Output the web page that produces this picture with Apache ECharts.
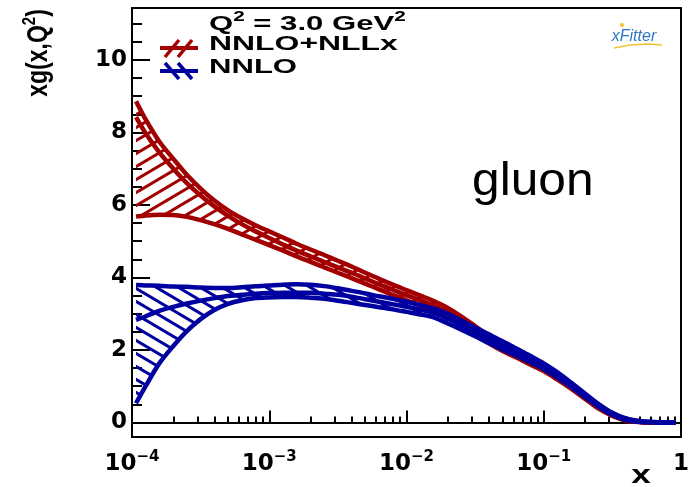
<!DOCTYPE html>
<html><head><meta charset="utf-8">
<script src="https://cdn.jsdelivr.net/npm/echarts@6/dist/echarts.min.js"></script>
<style>html,body{margin:0;padding:0;background:#fff}#c{width:693px;height:487px}</style>
</head><body><div id="c"></div>
<script>
// ---------- data ----------
const xValues = [1.07e-4, 1.26e-4, 1.58e-4, 2.00e-4, 2.51e-4, 3.16e-4, 3.98e-4, 5.01e-4, 6.31e-4, 7.94e-4,
  1.00e-3, 1.26e-3, 1.58e-3, 2.00e-3, 2.51e-3, 3.16e-3, 3.98e-3, 5.01e-3, 6.31e-3, 7.94e-3,
  1.00e-2, 1.26e-2, 1.58e-2, 2.00e-2, 2.51e-2, 3.16e-2, 3.98e-2, 5.01e-2, 6.31e-2, 7.94e-2,
  0.100, 0.126, 0.158, 0.200, 0.251, 0.316, 0.398, 0.501, 0.631, 0.794, 0.912];
const nllxUpper = [8.86, 8.35, 7.75, 7.27, 6.83, 6.45, 6.12, 5.85, 5.63, 5.44,
  5.27, 5.10, 4.93, 4.77, 4.62, 4.46, 4.30, 4.13, 3.96, 3.80,
  3.65, 3.50, 3.35, 3.16, 2.92, 2.66, 2.40, 2.19, 1.99, 1.80,
  1.59, 1.33, 1.05, 0.75, 0.46, 0.22, 0.07, 0.02, 0.005, 0.0, 0.0];
const nllxCentral = [8.42, 7.97, 7.45, 7.00, 6.60, 6.26, 5.96, 5.70, 5.47, 5.27,
  5.09, 4.91, 4.74, 4.58, 4.43, 4.28, 4.13, 3.97, 3.81, 3.66,
  3.51, 3.37, 3.22, 3.04, 2.80, 2.55, 2.29, 2.08, 1.89, 1.70,
  1.51, 1.26, 0.99, 0.70, 0.42, 0.20, 0.06, 0.015, 0.003, 0.0, 0.0];
const nllxLower = [5.68, 5.71, 5.73, 5.72, 5.67, 5.58, 5.47, 5.34, 5.19, 5.04,
  4.89, 4.74, 4.58, 4.43, 4.28, 4.13, 3.98, 3.83, 3.67, 3.52,
  3.37, 3.23, 3.09, 2.91, 2.68, 2.43, 2.18, 1.97, 1.79, 1.60,
  1.42, 1.18, 0.93, 0.65, 0.38, 0.18, 0.05, 0.01, 0.0, 0.0, 0.0];
const nnloUpper = [3.79, 3.78, 3.77, 3.75, 3.74, 3.72, 3.71, 3.71, 3.73, 3.76,
  3.78, 3.80, 3.81, 3.80, 3.76, 3.70, 3.63, 3.56, 3.48, 3.41,
  3.33, 3.24, 3.14, 3.00, 2.81, 2.62, 2.43, 2.24, 2.04, 1.84,
  1.63, 1.38, 1.10, 0.80, 0.51, 0.27, 0.11, 0.04, 0.015, 0.0, 0.0];
const nnloCentral = [2.83, 2.93, 3.08, 3.19, 3.28, 3.36, 3.43, 3.49, 3.52, 3.55,
  3.57, 3.58, 3.58, 3.58, 3.55, 3.52, 3.47, 3.40, 3.33, 3.26,
  3.19, 3.11, 3.02, 2.86, 2.68, 2.50, 2.31, 2.12, 1.94, 1.75,
  1.55, 1.31, 1.04, 0.75, 0.47, 0.24, 0.09, 0.03, 0.01, 0.0, 0.0];
const nnloLower = [0.53, 1.01, 1.63, 2.11, 2.52, 2.85, 3.10, 3.27, 3.37, 3.43,
  3.45, 3.46, 3.46, 3.44, 3.41, 3.36, 3.30, 3.24, 3.18, 3.12,
  3.05, 2.98, 2.90, 2.73, 2.56, 2.38, 2.19, 2.01, 1.84, 1.66,
  1.47, 1.24, 0.98, 0.70, 0.43, 0.21, 0.07, 0.02, 0.005, 0.0, 0.0];

const xMajorTicks = [1e-4, 1e-3, 1e-2, 1e-1, 1];
const xMinorTicks = [2e-4,3e-4,4e-4,5e-4,6e-4,7e-4,8e-4,9e-4, 2e-3,3e-3,4e-3,5e-3,6e-3,7e-3,8e-3,9e-3,
                     2e-2,3e-2,4e-2,5e-2,6e-2,7e-2,8e-2,9e-2, 0.2,0.3,0.4,0.5,0.6,0.7,0.8,0.9];
const yMajorTicks = [0, 2, 4, 6, 8, 10];
const yMinorTicks = [0.5,1,1.5,2.5,3,3.5,4.5,5,5.5,6.5,7,7.5,8.5,9,9.5,10.5,11];

const seriesNames = ['NNLO+NLLx', 'NNLO'];
const titleRich = '{a|Q}{s|2}{a| = 3.0 GeV}{s|2}';
const yTitleRich = '{a|xg(x,Q}{s|2}{a|)}';
const xTitle = 'x';
const partonLabel = 'gluon';

// ---------- styling ----------
const RED = '#a20000', BLUE = '#0000a0';
function hatch(color, dir) {
  const W = 22, H = 13;
  const c = document.createElement('canvas'); c.width = W; c.height = H;
  const g = c.getContext('2d');
  g.strokeStyle = color; g.lineWidth = 3;
  for (let k = -3; k <= 3; k++) {
    g.beginPath();
    if (dir > 0) { g.moveTo(-W, 2 * H + k * H); g.lineTo(2 * W, -H + k * H); }
    else { g.moveTo(-W, -H + k * H); g.lineTo(2 * W, 2 * H + k * H); }
    g.stroke();
  }
  return { image: c, repeat: 'repeat' };
}
const SM = 0.3;
const pairs = ys => xValues.map((x, i) => [x, ys[i]]);
const line = (ys, color) => ({ type: 'line', symbol: 'none', smooth: SM, silent: true,
  data: pairs(ys), lineStyle: { width: 4.5, color } });
const band = (up, lo, pat) => ({
  type: 'custom', coordinateSystem: 'cartesian2d', silent: true,
  data: xValues.map((x, i) => [x, lo[i], up[i]]),
  encode: { x: 0, y: [1, 2] },
  renderItem: (params, api) => {
    if (params.dataIndex !== 0) return null;
    const pts = [];
    for (let i = 0; i < xValues.length; i++) pts.push(api.coord([xValues[i], up[i]]));
    for (let i = xValues.length - 1; i >= 0; i--) pts.push(api.coord([xValues[i], lo[i]]));
    return { type: 'polygon', shape: { points: pts }, style: { fill: pat, stroke: null } };
  }
});

const labelFont = { fontFamily: 'DejaVu Sans', fontWeight: 'bold', color: '#000' };
const xLabelFmt = v => {
  const e = Math.round(Math.log10(v));
  if (e === 0) return '{b|1}';
  return '{b|10}{s|\u2212' + (-e) + '}';
};
const boldRich = (size, supSize, lh) => ({
  a: { fontFamily: 'Liberation Sans', fontWeight: 'bold', fontSize: size, lineHeight: lh, fill: '#000', verticalAlign: 'bottom' },
  s: { fontFamily: 'Liberation Sans', fontWeight: 'bold', fontSize: supSize, lineHeight: supSize, fill: '#000', verticalAlign: 'top' }
});

const chart = echarts.init(document.getElementById('c'));
chart.setOption({
  animation: false,
  backgroundColor: '#fff',
  grid: { left: 132, right: 12, top: 8, bottom: 50, show: true, borderColor: '#000', borderWidth: 2, backgroundColor: 'transparent' },
  xAxis: [
    { type: 'log', logBase: 10, min: 1e-4, max: 1, position: 'bottom',
      axisLine: { show: true, lineStyle: { color: '#000', width: 2 } },
      axisTick: { show: true, inside: true, length: 12, customValues: xMajorTicks, lineStyle: { color: '#000', width: 2 } },
      minorTick: { show: false }, splitLine: { show: false },
      axisLabel: { show: true, customValues: xMajorTicks, margin: 13, formatter: xLabelFmt,
        rich: {
          b: Object.assign({ fontSize: 23, lineHeight: 26, verticalAlign: 'bottom' }, labelFont),
          s: Object.assign({ fontSize: 15, lineHeight: 15, verticalAlign: 'top' }, labelFont)
        } } },
    { type: 'log', logBase: 10, min: 1e-4, max: 1, position: 'bottom', gridIndex: 0,
      axisLine: { show: false },
      axisTick: { show: true, inside: true, length: 6, customValues: xMinorTicks, lineStyle: { color: '#000', width: 2 } },
      minorTick: { show: false }, splitLine: { show: false }, axisLabel: { show: false } }
  ],
  yAxis: [
    { type: 'value', min: -0.4, max: 11.43, position: 'left',
      axisLine: { show: true, lineStyle: { color: '#000', width: 2 } },
      axisTick: { show: true, inside: true, length: 18, customValues: yMajorTicks, lineStyle: { color: '#000', width: 2 } },
      minorTick: { show: false }, splitLine: { show: false },
      axisLabel: Object.assign({ show: true, customValues: yMajorTicks, fontSize: 23, margin: 5 }, labelFont) },
    { type: 'value', min: -0.4, max: 11.43, position: 'left', gridIndex: 0,
      axisLine: { show: false },
      axisTick: { show: true, inside: true, length: 10, customValues: yMinorTicks, lineStyle: { color: '#000', width: 2 } },
      minorTick: { show: false }, splitLine: { show: false }, axisLabel: { show: false } }
  ],
  series: [
    band(nllxUpper, nllxLower, hatch(RED, 1)),
    line(nllxUpper, RED), line(nllxCentral, RED), line(nllxLower, RED),
    band(nnloUpper, nnloLower, hatch(BLUE, -1)),
    line(nnloUpper, BLUE), line(nnloCentral, BLUE), line(nnloLower, BLUE)
  ],
  graphic: [
    { type: 'text', x: 37, y: 53, rotation: Math.PI / 2, scaleY: 1.25,
      style: { text: yTitleRich, rich: boldRich(23, 15, 26), align: 'center', verticalAlign: 'middle' } },
    { type: 'text', x: 641, y: 476, scaleX: 1.35,
      style: { text: xTitle, font: 'bold 26px "Liberation Sans"', fill: '#000', align: 'center', verticalAlign: 'middle' } },
    { type: 'text', x: 209, y: 22.5, scaleX: 1.48,
      style: { text: titleRich, rich: boldRich(21, 14, 24), align: 'left', verticalAlign: 'middle' } },
    { type: 'text', x: 209, y: 44.5, scaleX: 1.52,
      style: { text: seriesNames[0], font: 'bold 21px "Liberation Sans"', fill: '#000', align: 'left', verticalAlign: 'middle' } },
    { type: 'text', x: 209, y: 67.5, scaleX: 1.48,
      style: { text: seriesNames[1], font: 'bold 21px "Liberation Sans"', fill: '#000', align: 'left', verticalAlign: 'middle' } },
    { type: 'line', shape: { x1: 160, y1: 48, x2: 198, y2: 48 }, style: { stroke: RED, lineWidth: 4 } },
    { type: 'line', shape: { x1: 165, y1: 57, x2: 179, y2: 40 }, style: { stroke: RED, lineWidth: 3.5 } },
    { type: 'line', shape: { x1: 178, y1: 57, x2: 192, y2: 40 }, style: { stroke: RED, lineWidth: 3.5 } },
    { type: 'line', shape: { x1: 160, y1: 71, x2: 198, y2: 71 }, style: { stroke: BLUE, lineWidth: 4 } },
    { type: 'line', shape: { x1: 165, y1: 63, x2: 179, y2: 79 }, style: { stroke: BLUE, lineWidth: 3.5 } },
    { type: 'line', shape: { x1: 178, y1: 63, x2: 192, y2: 79 }, style: { stroke: BLUE, lineWidth: 3.5 } },
    { type: 'text', x: 472, y: 182.5, scaleX: 1.08,
      style: { text: partonLabel, font: '46px "Liberation Sans"', fill: '#000', align: 'left', verticalAlign: 'middle' } },
    { type: 'text', x: 634, y: 37,
      style: { text: 'xFitter', font: 'italic 16px "Liberation Sans"', fill: '#2f77c4', align: 'center', verticalAlign: 'middle' } },
    { type: 'polyline', shape: { points: [[614, 48], [630, 45], [648, 44], [662, 45]] }, style: { stroke: '#f2c230', lineWidth: 1.5, fill: null } },
    { type: 'circle', shape: { cx: 622, cy: 25, r: 2 }, style: { fill: '#f2c230' } }
  ]
});
</script>
</body></html>
